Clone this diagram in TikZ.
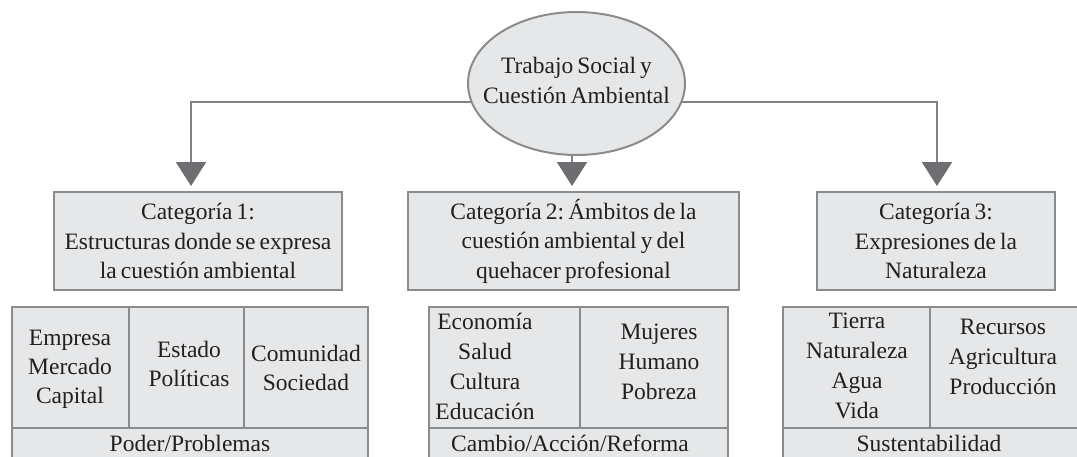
\documentclass[tikz,border=0pt]{standalone}
\usepackage{fontspec}
\setmainfont{Liberation Serif}[WordSpace=0.7]
\usetikzlibrary{arrows.meta,shapes.geometric}
\definecolor{boxfill}{HTML}{E6E7E8}
\definecolor{boxline}{HTML}{8A8B8D}
\definecolor{linegray}{HTML}{808285}
\definecolor{tipgray}{HTML}{6D6E71}
\definecolor{txt}{HTML}{231F20}
\frenchspacing
\begin{document}
\begin{tikzpicture}[x=1pt,y=-1pt,
  txtstyle/.style={font=\fontsize{23.5}{30}\selectfont, text=txt, align=center, inner sep=0pt},
  cell/.style={draw=boxline, fill=boxfill, line width=2pt, inner sep=0pt, outer sep=0pt},
  catbox/.style={cell, align=center, font=\fontsize{23.5}{29.5}\selectfont, text=txt},
  conn/.style={draw=linegray, line width=2.2pt, -{Triangle[width=30pt,length=24pt,color=tipgray]}}]
\useasboundingbox (0,0) rectangle (1077,456);
\clip (0,0) rectangle (1077,456);

% root
\node[ellipse, draw=boxline, fill=boxfill, line width=2pt, minimum width=217pt, minimum height=143pt, inner sep=0pt] (root) at (576.5,83.5) {};
\node[txtstyle] (roottxt) at (576.5,80) {Trabajo Social y\\Cuestión Ambiental};

% connectors
\coordinate (p1) at (191,186);
\coordinate (p2) at (572,186);
\coordinate (p3) at (937,186);
\draw[conn] (root.190) -| (p1);
\draw[conn] (p2 |- root.south) -- (p2);
\draw[conn] (root.350) -| (p3);

% categories
\node[catbox, minimum width=288pt, minimum height=98pt] (cat1) at (198,241) {Categoría 1:\\Estructuras donde se expresa\\la cuestión ambiental};
\node[catbox, minimum width=331pt, minimum height=98pt] (cat2) at (573.5,241) {Categoría 2: Ámbitos de la\\cuestión ambiental y del\\quehacer profesional};
\node[catbox, minimum width=238pt, minimum height=98pt] (cat3) at (936,241) {Categoría 3:\\Expresiones de la\\Naturaleza};

% table 1
\node[cell, minimum width=117pt, minimum height=121pt] (t1a) at (70.5,367.5) {};
\node[cell, minimum width=115pt, minimum height=121pt] (t1b) at (186.5,367.5) {};
\node[cell, minimum width=124pt, minimum height=121pt] (t1c) at (306,367.5) {};
\node[cell, minimum width=356pt, minimum height=32pt] (t1d) at (190,444) {};
\node[txtstyle, font=\fontsize{23.5}{29}\selectfont] (t1atxt) at (70,369) {Empresa\\Mercado\\Capital};
\node[txtstyle, font=\fontsize{23.5}{29}\selectfont] (t1btxt) at (189,364) {Estado\\Políticas};
\node[txtstyle, font=\fontsize{23.5}{29}\selectfont] (t1ctxt) at (306,368) {Comunidad\\Sociedad};
\node[txtstyle] (t1dtxt) at (190,443) {Poder/Problemas};

% table 2
\node[cell, minimum width=151pt, minimum height=121pt] (t2a) at (504.5,367.5) {};
\node[cell, minimum width=148pt, minimum height=121pt] (t2b) at (654,367.5) {};
\node[cell, minimum width=299pt, minimum height=32pt] (t2c) at (578.5,444) {};
\node[txtstyle] (t2atxt) at (485,366) {Economía\\Salud\\Cultura\\Educación};
\node[txtstyle] (t2btxt) at (659,362) {Mujeres\\Humano\\Pobreza};
\node[txtstyle] (t2ctxt) at (570,443) {Cambio/Acción/Reforma};

% table 3
\node[cell, minimum width=147pt, minimum height=121pt] (t3a) at (856.5,367.5) {};
\node[cell, minimum width=150pt, minimum height=121pt] (t3b) at (1005,367.5) {};
\node[cell, minimum width=297pt, minimum height=32pt] (t3c) at (931.5,444) {};
\node[txtstyle] (t3atxt) at (857,366) {Tierra\\Naturaleza\\Agua\\Vida};
\node[txtstyle] (t3btxt) at (1003,357) {Recursos\\Agricultura\\Producción};
\node[txtstyle] (t3ctxt) at (929,443) {Sustentabilidad};
\end{tikzpicture}
\end{document}
